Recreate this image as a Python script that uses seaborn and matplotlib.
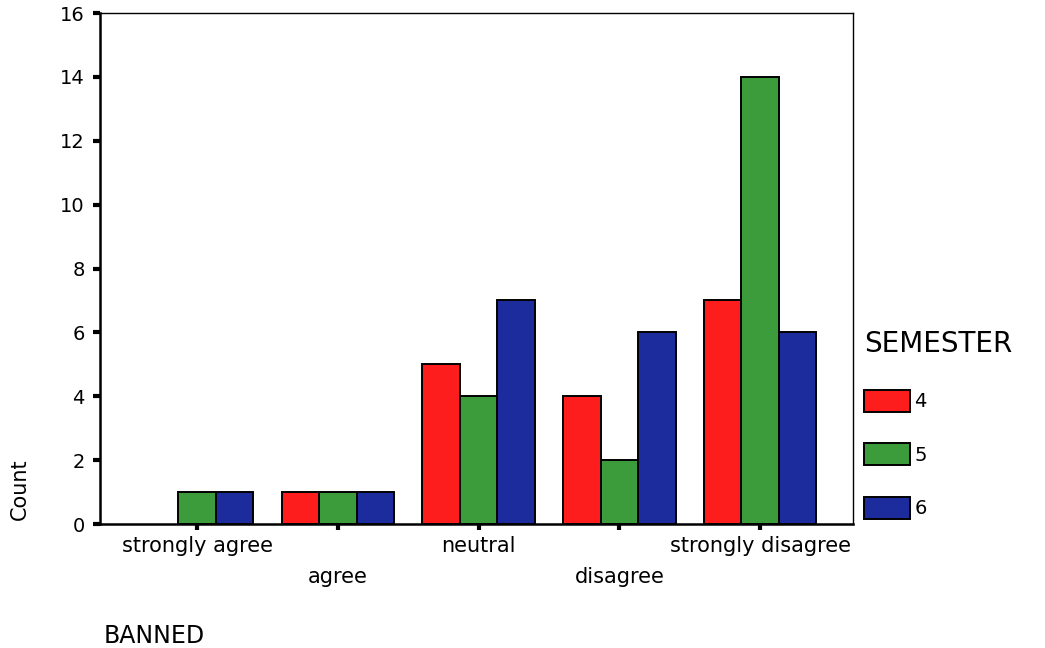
import matplotlib
matplotlib.use("Agg")
import matplotlib.pyplot as plt
import seaborn as sns
import pandas as pd

sns.set_style("white")
plt.rcParams["font.family"] = ["DejaVu Sans"]
plt.rcParams["text.color"] = "black"
plt.rcParams["xtick.color"] = "black"
plt.rcParams["ytick.color"] = "black"

categories = ["strongly agree", "agree", "neutral", "disagree", "strongly disagree"]
semesters = ["4", "5", "6"]
sem4 = [0, 1, 5, 4, 7]
sem5 = [1, 1, 4, 2, 14]
sem6 = [1, 1, 7, 6, 6]
colors = ["#fd1d1d", "#3c9c3c", "#1c2c9c"]

rows = []
for sem, vals in zip(semesters, [sem4, sem5, sem6]):
    for cat, v in zip(categories, vals):
        rows.append({"BANNED": cat, "SEMESTER": sem, "Count": v})
df = pd.DataFrame(rows)

fig = plt.figure(figsize=(10.45, 6.48), dpi=100)
ax = fig.add_axes([100 / 1045, 1 - 524 / 648, 753 / 1045, 511 / 648])

sns.barplot(data=df, x="BANNED", y="Count", hue="SEMESTER", order=categories,
            hue_order=semesters, palette=colors, edgecolor="black", linewidth=1.4,
            width=0.8, saturation=1, ax=ax)

# hide the outline of empty bars
for p in ax.patches:
    if p.get_height() == 0:
        p.set_linewidth(0)

ax.set_xlim(-0.69, 4.66)
ax.set_ylim(0, 16)
ax.set_yticks(range(0, 17, 2))
ax.set_xlabel("")
ax.set_ylabel("")

for side in ["top", "right"]:
    ax.spines[side].set_linewidth(1.0)
    ax.spines[side].set_color("black")
for side in ["left", "bottom"]:
    ax.spines[side].set_linewidth(1.8)
    ax.spines[side].set_color("black")

ax.tick_params(axis="y", direction="out", length=5, width=3,
               labelsize=14, pad=6, left=True)
ax.tick_params(axis="x", direction="out", length=4, width=3,
               labelsize=15, bottom=True)
for i, t in enumerate(ax.xaxis.get_major_ticks()):
    t.set_pad(27 if i % 2 else 5)

handles, labels = ax.get_legend_handles_labels()
leg = ax.legend(handles, labels, title="SEMESTER", frameon=False,
                loc="upper left", bbox_to_anchor=(864 / 1045, 1 - 330 / 648),
                bbox_transform=fig.transFigure, borderaxespad=0, borderpad=0,
                fontsize=14, title_fontsize=20, handlelength=2.35,
                handleheight=1.35, labelspacing=1.63, handletextpad=0.25,
                alignment="left")
leg._legend_box.sep = 23
for h in leg.legend_handles:
    h.set_edgecolor("black")
    h.set_linewidth(1.4)

fig.text(20 / 1045, 1 - 489 / 648, "Count", rotation=90, ha="center",
         va="center", fontsize=15)
fig.text(104 / 1045, 1 - 636 / 648, "BANNED", ha="left", va="center",
         fontsize=17)

fig.savefig("out.png", dpi=100, facecolor="white")
